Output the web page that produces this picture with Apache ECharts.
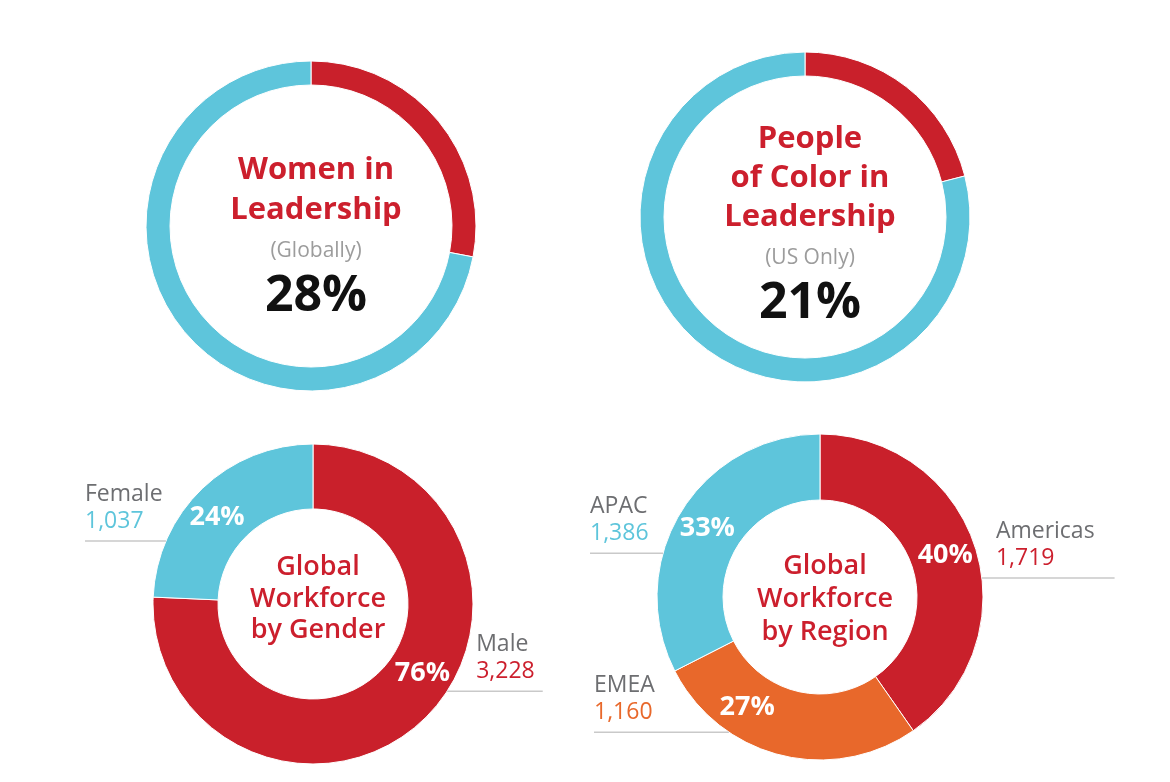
<!DOCTYPE html>
<html><head><meta charset="utf-8">
<script src="https://cdn.jsdelivr.net/npm/echarts@6/dist/echarts.min.js"></script>
<style>html,body{margin:0;padding:0;background:#fff}#c{width:1170px;height:782px}</style>
</head><body><div id="c"></div>
<script>
// ---- data ----
const leadershipCategories = ['In leadership', 'Rest'];
const womenLeadership = [28, 72];
const pocLeadership = [21, 79];
const genderCategories = ['Male', 'Female'];
const genderValues = [3228, 1037];
const regionCategories = ['Americas', 'EMEA', 'APAC'];
const regionValues = [1719, 1160, 1386];

// ---- styles ----
const RED = '#C9202B', BLUE = '#5EC5DB', ORANGE = '#E8682B';
const TEXT_RED = '#CC1F2D', GRAY = '#6D6E71', LIGHT = '#9C9C9C', RULE = '#C9C9C9';
const FONT = '"Open Sans", Roboto, sans-serif';
const genderColors = [RED, BLUE];
const regionColors = [RED, ORANGE, BLUE];
const genderValueColors = [TEXT_RED, BLUE];
const regionValueColors = [TEXT_RED, ORANGE, BLUE];

const fmt = v => v.toLocaleString('en-US');

const chart = echarts.init(document.getElementById('c'), null, {renderer: 'canvas'});

function ringSeries(values, center, radius) {
  return {
    type: 'pie', center, radius, startAngle: 90, clockwise: true,
    silent: true, label: {show: false}, labelLine: {show: false},
    itemStyle: {borderColor: '#fff', borderWidth: 1},
    data: values.map((v, i) => ({name: leadershipCategories[i], value: v,
      itemStyle: {color: i === 0 ? RED : BLUE}}))
  };
}

function pctSeries(cats, values, colors, center, radius, angles) {
  const [cx, cy] = center, rm = (radius[0] + radius[1]) / 2 + 2;
  return {
    type: 'pie', center, radius, startAngle: 90, clockwise: true, silent: true,
    percentPrecision: 0, avoidLabelOverlap: false,
    itemStyle: {borderColor: '#fff', borderWidth: 1},
    label: {show: true, position: 'inside', formatter: '{d}%', color: '#fff',
      fontFamily: FONT, fontWeight: 'bold', fontSize: 27},
    labelLine: {show: false},
    labelLayout: params => {
      const a = angles[params.dataIndex] * Math.PI / 180;
      return {x: cx + rm * Math.cos(a), y: cy - rm * Math.sin(a), align: 'center', verticalAlign: 'middle'};
    },
    data: values.map((v, i) => ({name: cats[i], value: v, itemStyle: {color: colors[i]}}))
  };
}

function outerLabelSeries(cats, values, valueColors, center, radius, layoutCfg) {
  const [cx, cy] = center, R = radius[1];
  return {
    type: 'pie', center, radius, startAngle: 90, clockwise: true, silent: true,
    avoidLabelOverlap: false, z: 3,
    itemStyle: {color: 'rgba(0,0,0,0)'},
    label: {show: true, position: 'outside',
      formatter: p => '{n|' + p.name + '}\n{v' + p.dataIndex + '|' + fmt(p.value) + '}',
      rich: Object.assign({
        n: {color: GRAY, fontFamily: FONT, fontWeight: 500, fontSize: 23, lineHeight: 27}
      }, ...valueColors.map((c, i) => ({['v' + i]: {color: c, fontFamily: FONT, fontWeight: 500, fontSize: 23, lineHeight: 27}})))
    },
    labelLine: {show: true, length: 10, length2: 10, lineStyle: {color: RULE, width: 1.5}},
    labelLayout: params => {
      const c = layoutCfg[params.dataIndex];
      const a = c.angle * Math.PI / 180;
      const ly = cy - R * Math.sin(a);
      const ex = cx + R * Math.cos(a);
      const w = params.labelRect.width;
      if (c.side === 'left') {
        return {x: c.textX, y: ly - 6, align: 'left', verticalAlign: 'bottom',
          labelLinePoints: [[ex, ly], [(ex + c.textX) / 2, ly], [c.textX, ly]]};
      }
      const tx = ex + c.gap;
      return {x: tx, y: ly - 6, align: 'left', verticalAlign: 'bottom',
        labelLinePoints: [[ex, ly], [tx, ly], [tx + w + c.extra, ly]]};
    },
    data: values.map((v, i) => ({name: cats[i], value: v}))
  };
}

const TL = [311, 226], TR = [805, 217], BL = [313, 604], BR = [820, 597];
const topRadius = [141, 165];
const blRadius = [95, 160];
const brRadius = [97, 163];

const genderPctAngles = [-32.3, 137.8];
const regionPctAngles = [18.4, -123.5, 148.6];
const genderLabelLayout = [
  {side: 'right', angle: -33, gap: 29, extra: 8},
  {side: 'left', angle: 156.8, textX: 85}
];
const regionLabelLayout = [
  {side: 'right', angle: 6.7, gap: 14, extra: 20},
  {side: 'left', angle: -124, textX: 594},
  {side: 'left', angle: 164.4, textX: 590}
];

const centerTitle = (x, top, text, rich) => ({
  left: x, top, textAlign: 'center', text, textStyle: {rich}
});
const bigRich = lh => ({
  t: {color: TEXT_RED, fontFamily: FONT, fontWeight: 'bold', fontSize: 31, lineHeight: lh},
  s: {color: LIGHT, fontFamily: FONT, fontWeight: 'normal', fontSize: 21, lineHeight: 42},
  p: {color: '#111', fontFamily: FONT, fontWeight: 'bold', fontSize: 50, lineHeight: 50}
});
const smallRich = lh => ({
  t: {color: TEXT_RED, fontFamily: FONT, fontWeight: 600, fontSize: 27, lineHeight: lh}
});

chart.setOption({
  animation: false,
  backgroundColor: '#fff',
  title: [
    centerTitle(TL[0], 145, '{t|Women in}\n{t|Leadership}\n{s|(Globally)}\n{p|' + womenLeadership[0] + '%}', bigRich(40)),
    centerTitle(TR[0], 115, '{t|People}\n{t|of Color in}\n{t|Leadership}\n{s|(US Only)}\n{p|' + pocLeadership[0] + '%}', bigRich(39)),
    centerTitle(BL[0], 547, '{t|Global}\n{t|Workforce}\n{t|by Gender}', smallRich(31.5)),
    centerTitle(BR[0], 545, '{t|Global}\n{t|Workforce}\n{t|by Region}', smallRich(33))
  ],
  series: [
    ringSeries(womenLeadership, TL, topRadius),
    ringSeries(pocLeadership, TR, topRadius),
    pctSeries(genderCategories, genderValues, genderColors, BL, blRadius, genderPctAngles),
    outerLabelSeries(genderCategories, genderValues, genderValueColors, BL, blRadius, genderLabelLayout),
    pctSeries(regionCategories, regionValues, regionColors, BR, brRadius, regionPctAngles),
    outerLabelSeries(regionCategories, regionValues, regionValueColors, BR, brRadius, regionLabelLayout)
  ]
});
</script>
</body></html>
